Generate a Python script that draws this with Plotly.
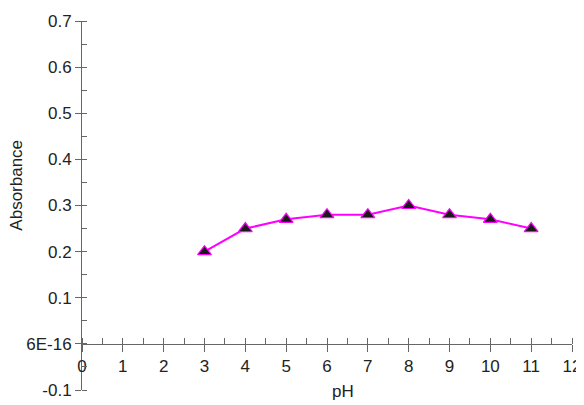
import plotly.graph_objects as go

ph = [3, 4, 5, 6, 7, 8, 9, 10, 11]
absorbance = [0.20, 0.25, 0.27, 0.28, 0.28, 0.30, 0.28, 0.27, 0.25]

x_ticks = list(range(0, 13))
y_ticks = [-0.1, 0.0, 0.1, 0.2, 0.3, 0.4, 0.5, 0.6, 0.7]
y_ticktext = ["-0.1", "6E-16", "0.1", "0.2", "0.3", "0.4", "0.5", "0.6", "0.7"]

x_range = [0, 12]
y_range = [-0.1, 0.7]

FONT = "Liberation Sans, Arial, sans-serif"
AX = "#666666"
TXT = "#222222"
FS = 17

fig = go.Figure()
fig.add_trace(go.Scatter(
    x=ph, y=absorbance, mode="lines+markers",
    line=dict(color="#ff00ff", width=2),
    marker=dict(symbol="triangle-up", size=12, color="#1a1a1a",
                line=dict(color="#ff00ff", width=1.2)),
    showlegend=False, cliponaxis=False,
))
# invisible trace to keep overlay axes (for crossing tick marks) alive
fig.add_trace(go.Scatter(x=[None], y=[None], xaxis="x2", yaxis="y2",
                         showlegend=False, hoverinfo="skip"))

y0_frac = (0 - y_range[0]) / (y_range[1] - y_range[0])

# page body has an 8px margin, so the figure is sized to fit the window
fig.update_layout(
    width=576, height=397,
    margin=dict(l=74, r=12, t=13, b=15, autoexpand=False),
    paper_bgcolor="white", plot_bgcolor="white",
    font=dict(family=FONT, size=FS, color=TXT),
    xaxis=dict(
        range=x_range, anchor="free", position=y0_frac, automargin=False,
        showgrid=False, zeroline=False, showline=True, linecolor=AX, linewidth=1,
        tickvals=x_ticks, ticks="outside", ticklen=7, tickcolor=AX,
        minor=dict(dtick=0.5, ticks="inside", ticklen=6, tickcolor=AX),
        tickfont=dict(size=FS, color=TXT),
    ),
    yaxis=dict(
        range=y_range, showgrid=False, zeroline=False, showline=True,
        linecolor=AX, linewidth=1, automargin=False,
        tickvals=y_ticks, ticktext=y_ticktext, ticks="outside", ticklen=6,
        tickcolor=AX,
        minor=dict(dtick=0.05, tick0=0, ticks="inside", ticklen=5, tickcolor=AX),
        tickfont=dict(size=FS, color=TXT),
    ),
    xaxis2=dict(
        range=x_range, overlaying="x", anchor="free", position=y0_frac,
        automargin=False,
        showgrid=False, zeroline=False, showline=False, showticklabels=False,
        tickvals=x_ticks, ticks="inside", ticklen=5, tickcolor=AX,
    ),
    yaxis2=dict(
        range=y_range, overlaying="y", anchor="x2", side="left", automargin=False,
        showgrid=False, zeroline=False, showline=False, showticklabels=False,
        tickvals=y_ticks, ticks="inside", ticklen=5, tickcolor=AX,
    ),
    annotations=[
        dict(text="pH", xref="paper", yref="paper", x=0.533, y=-0.035,
             xanchor="center", yanchor="bottom", showarrow=False,
             font=dict(size=FS, color=TXT)),
        dict(text="Absorbance", xref="paper", yref="paper", x=-0.133, y=0.556,
             xanchor="center", yanchor="middle", textangle=-90, showarrow=False,
             font=dict(size=FS, color=TXT)),
    ],
)

fig.write_html("out.html")
